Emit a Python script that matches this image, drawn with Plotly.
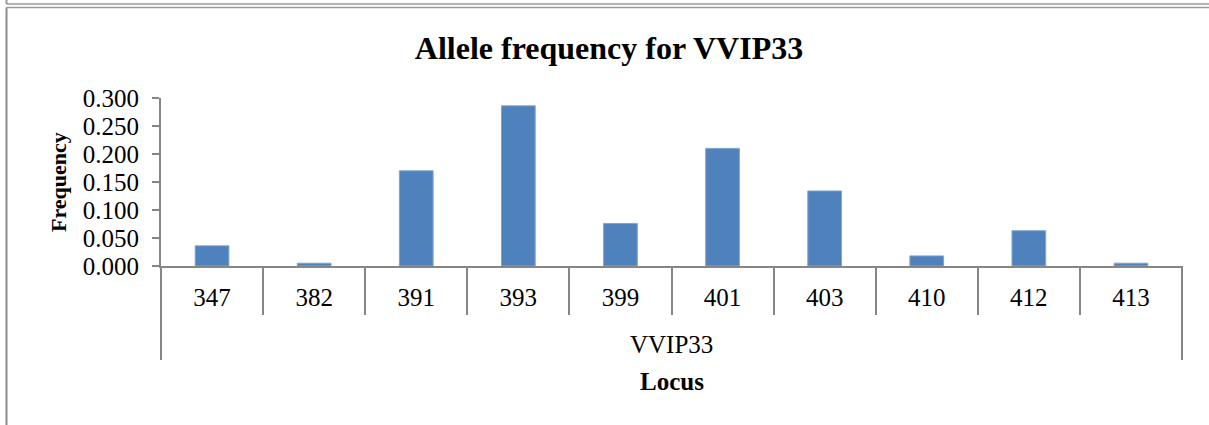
import plotly.graph_objects as go

# Allele frequency data
locus = "VVIP33"
alleles = ["347", "382", "391", "393", "399", "401", "403", "410", "412", "413"]
frequency = [0.036, 0.005, 0.170, 0.286, 0.076, 0.210, 0.134, 0.018, 0.063, 0.005]
y_ticks = [0.0, 0.05, 0.10, 0.15, 0.20, 0.25, 0.30]

W, H = 1209, 425
L, R, T, B = 161, 27, 98, 159
pw, ph = W - L - R, H - T - B


def px(x):
    return (x - L) / pw


def py(y):
    return (H - B - y) / ph


serif = "Liberation Serif, Times New Roman, serif"
axis_grey = "#868686"

fig = go.Figure()

fig.add_trace(go.Bar(
    x=alleles,
    y=frequency,
    marker=dict(color="#4f81bd", line=dict(color="#7fa3d0", width=1)),
    width=0.33,
    showlegend=False,
))

fig.update_layout(
    width=W,
    height=H,
    margin=dict(l=L, r=R, t=T, b=B),
    plot_bgcolor="white",
    paper_bgcolor="white",
    font=dict(family=serif, color="black"),
    title=dict(
        text="<b>Allele frequency for VVIP33</b>",
        font=dict(size=32, family=serif, color="black"),
        x=609 / W, xanchor="center", xref="container",
        y=1 - 48 / H, yanchor="middle", yref="container",
    ),
    xaxis=dict(
        type="category",
        showline=True, linecolor=axis_grey, linewidth=2,
        ticks="outside", ticklen=47, tickcolor=axis_grey, tickwidth=2,
        tickson="boundaries",
        ticklabelstandoff=8,
        tickfont=dict(size=25, family=serif, color="black"),
        showgrid=False,
    ),
    yaxis=dict(
        range=[0, 0.3],
        tickvals=y_ticks,
        tickformat=".3f",
        showline=True, linecolor=axis_grey, linewidth=2,
        ticks="outside", ticklen=7, tickcolor=axis_grey, tickwidth=2,
        ticklabelstandoff=8,
        tickfont=dict(size=25, family=serif, color="black"),
        showgrid=False, zeroline=False,
    ),
)

# outer level of the category axis: locus name and its boundary lines
fig.add_annotation(
    text=locus,
    x=0.5, y=py(344), xref="paper", yref="paper",
    xanchor="center", yanchor="middle", showarrow=False,
    font=dict(size=25, family=serif, color="black"),
)
for edge in (0, 1):
    fig.add_shape(type="line", xref="paper", yref="paper",
                  x0=edge, x1=edge, y0=0, y1=py(360),
                  line=dict(color=axis_grey, width=2))

# axis titles
fig.add_annotation(
    text="<b>Frequency</b>", textangle=-90,
    x=px(58), y=0.5, xref="paper", yref="paper",
    xanchor="center", yanchor="middle", showarrow=False,
    font=dict(size=22, family=serif, color="black"),
)
fig.add_annotation(
    text="<b>Locus</b>",
    x=0.5, y=py(381), xref="paper", yref="paper",
    xanchor="center", yanchor="middle", showarrow=False,
    font=dict(size=25, family=serif, color="black"),
)

# frame lines around the chart area
frame = "#9a9a9a"
fig.add_shape(type="line", xref="paper", yref="paper",
              x0=px(6.5), x1=px(W), y0=py(4), y1=py(4),
              line=dict(color=frame, width=1.5))
fig.add_shape(type="line", xref="paper", yref="paper",
              x0=px(6.5), x1=px(6.5), y0=py(0), y1=py(4),
              line=dict(color=frame, width=2))
fig.add_shape(type="line", xref="paper", yref="paper",
              x0=px(6.5), x1=px(W), y0=py(7.5), y1=py(7.5),
              line=dict(color=frame, width=1.5))
fig.add_shape(type="line", xref="paper", yref="paper",
              x0=px(6.5), x1=px(6.5), y0=py(7.5), y1=py(H),
              line=dict(color="#8c8c8c", width=2))

fig.write_html("out.html", config={"displayModeBar": False},
               post_script="document.body.style.margin = '0';")
